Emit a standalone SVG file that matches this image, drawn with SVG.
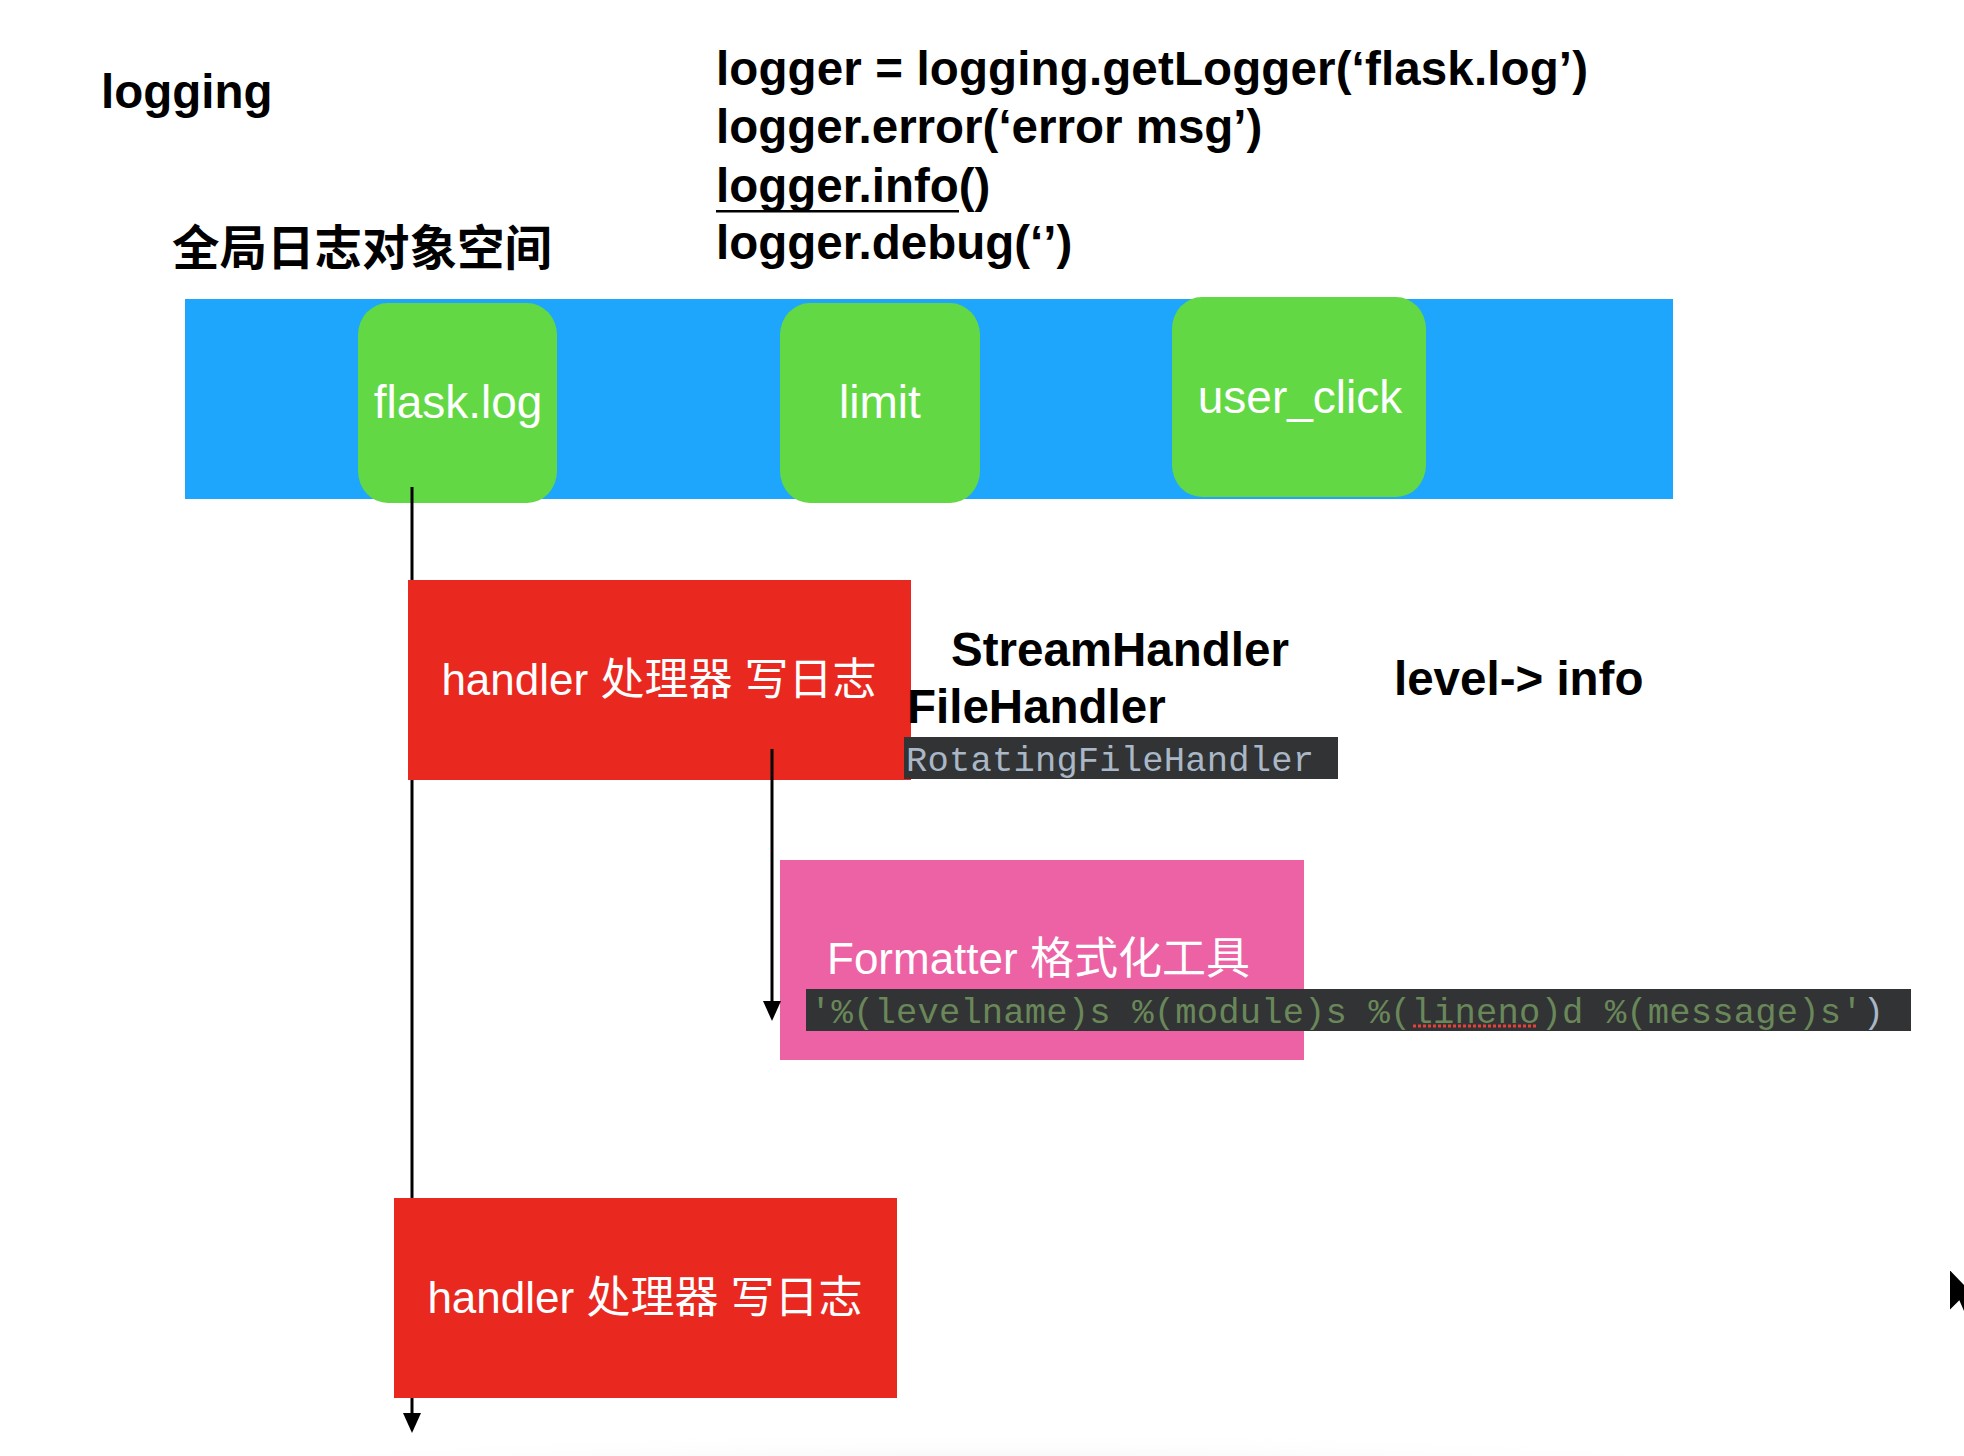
<svg xmlns="http://www.w3.org/2000/svg" width="1964" height="1456" viewBox="0 0 1964 1456">
<style>
.bold{font-family:"Liberation Sans","Noto Sans CJK SC",Arial,sans-serif;font-weight:bold;font-size:47.5px;fill:#000}
.cjkb{font-family:"Noto Sans CJK SC","Liberation Sans",sans-serif;font-weight:bold;font-size:47.5px;fill:#000}
.wl{font-family:"Liberation Sans","Noto Sans CJK SC",Arial,sans-serif;font-size:46px;fill:#fff;text-anchor:middle}
.wh{font-family:"Liberation Sans","Noto Sans CJK SC",Arial,sans-serif;font-size:44px;fill:#fff}
.code{font-family:"Liberation Mono","DejaVu Sans Mono",monospace;fill:#A9B7C6}
.green{fill:#63D845}
.red{fill:#E92820}
.conn{stroke:#000;stroke-width:3;fill:none}
</style>
<defs>
<marker id="arr" viewBox="0 0 20 18" refX="15" refY="9" markerWidth="20" markerHeight="18" markerUnits="userSpaceOnUse" orient="auto">
<path d="M0,0 L20,9 L0,18 z" fill="#000"/>
</marker>
<radialGradient id="shadow" cx="0.5" cy="1" r="0.5" gradientUnits="objectBoundingBox">
<stop offset="0" stop-color="#e9e9e9"/>
<stop offset="1" stop-color="#ffffff" stop-opacity="0"/>
</radialGradient>
</defs>
<rect width="1964" height="1456" fill="#fff"/>
<rect x="80" y="1380" width="1820" height="100" fill="url(#shadow)"/>

<g id="title">
<text class="bold" x="101" y="108">logging</text>
</g>
<g id="code-lines">
<text class="bold" x="716" y="85" textLength="872">logger = logging.getLogger(‘flask.log’)</text>
<text class="bold" x="716" y="143">logger.error(‘error msg’)</text>
<text class="bold" x="716" y="202">logger.info()</text>
<rect x="716" y="210" width="243" height="2.5" fill="#000"/>
<text class="bold" x="716" y="259">logger.debug(‘’)</text>
</g>
<g id="space-label">
<text class="cjkb" x="172" y="265">全局日志对象空间</text>
</g>

<g id="global-space">
<rect x="185" y="299" width="1488" height="200" fill="#1EA5FC"/>
</g>
<g id="node-flask-log">
<rect class="green" x="358" y="303" width="199" height="200" rx="30" ry="32"/>
<text class="wl" x="458" y="418">flask.log</text>
</g>
<g id="node-limit">
<rect class="green" x="780" y="303" width="200" height="200" rx="30" ry="32"/>
<text class="wl" x="880" y="418">limit</text>
</g>
<g id="node-user-click">
<rect class="green" x="1172" y="297" width="254" height="200" rx="30" ry="32"/>
<text class="wl" x="1300" y="413">user_click</text>
</g>

<g id="node-handler-1">
<rect class="red" x="408" y="580" width="503" height="200"/>
<text class="wh" x="659" y="695" text-anchor="middle">handler 处理器 写日志</text>
</g>
<g id="handler-types">
<text class="bold" x="951" y="666">StreamHandler</text>
<text class="bold" x="907" y="723">FileHandler</text>
<rect x="904" y="737" width="434" height="42" fill="#313335"/>
<text class="code" x="906" y="771" font-size="35.5" textLength="408">RotatingFileHandler</text>
</g>
<g id="level-label">
<text class="bold" x="1394" y="695">level-&gt; info</text>
</g>

<g id="node-formatter">
<rect x="780" y="860" width="524" height="200" fill="#EC62A5"/>
<text class="wh" x="827" y="974">Formatter 格式化工具</text>
<rect x="806" y="989" width="1105" height="42" fill="#313335"/>
<text class="code" x="810" y="1023" font-size="35.5" textLength="1074"><tspan fill="#6A8759">'%(levelname)s %(module)s %(lineno)d %(message)s'</tspan><tspan fill="#A9B7C6">)</tspan></text>
<line x1="1413" y1="1026" x2="1538" y2="1026" stroke="#E8413A" stroke-width="3" stroke-dasharray="3 2"/>
</g>

<g id="node-handler-2">
<rect class="red" x="394" y="1198" width="503" height="200"/>
<text class="wh" x="645" y="1313" text-anchor="middle">handler 处理器 写日志</text>
</g>

<g id="connectors">
<path class="conn" d="M412 487 V580 M412 780 V1198 M412 1398 V1428" marker-end="url(#arr)"/>
<path class="conn" d="M772 749 V1016" marker-end="url(#arr)"/>
</g>

<g id="cursor">
<polygon points="1949,1268 1949,1312 1959,1302 1966,1318 1972,1315 1966,1300 1980,1300" fill="#000" stroke="#fff" stroke-width="2"/>
</g>
</svg>
